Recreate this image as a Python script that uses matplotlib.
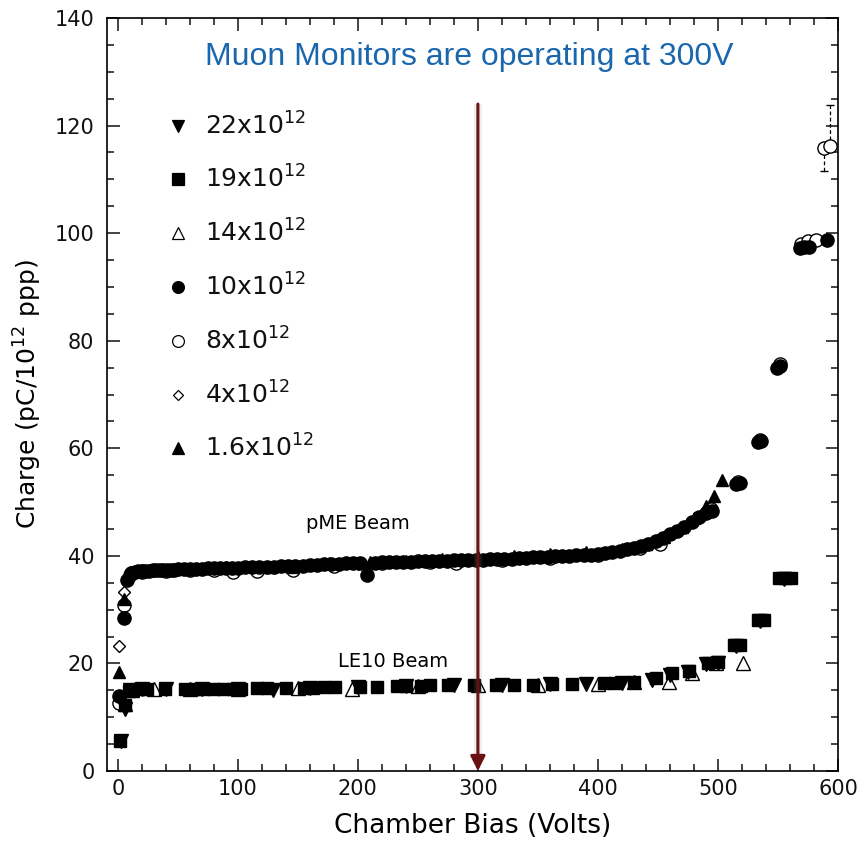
import matplotlib
matplotlib.use("Agg")
import matplotlib.pyplot as plt

# ---------------- data ----------------
# pME beam
x_10 = [1, 5, 8, 11, 14, 17, 20, 23, 26, 29,
        32, 35, 38, 41, 44, 47, 50, 55, 60, 65,
        70, 75, 80, 85, 90, 95, 100, 106, 112, 118,
        124, 130, 136, 142, 148, 154, 160, 166, 172, 178,
        184, 190, 196, 202, 208, 214, 220, 226, 232, 238,
        244, 250, 256, 262, 268, 274, 280, 286, 292, 298,
        304, 310, 316, 322, 328, 334, 340, 346, 352, 358,
        364, 370, 376, 382, 388, 394, 400, 406, 412, 418,
        424, 430, 436, 442, 448, 454, 460, 466, 472, 478,
        484, 490, 495, 515, 518, 533, 536, 549, 552, 568,
        572, 576, 591]
y_10 = [13.9, 28.5, 35.5, 36.8, 37.0, 37.1, 37.2, 37.2, 37.2, 37.3,
        37.3, 37.3, 37.4, 37.4, 37.4, 37.4, 37.5, 37.5, 37.6, 37.5,
        37.6, 37.7, 37.7, 37.7, 37.8, 37.7, 37.8, 37.9, 37.9, 38.0,
        38.0, 38.0, 38.1, 38.1, 38.2, 38.2, 38.3, 38.3, 38.4, 38.5,
        38.5, 38.6, 38.6, 38.7, 36.5, 38.7, 38.8, 38.8, 38.9, 38.9,
        38.9, 39.0, 39.0, 39.1, 39.1, 39.1, 39.2, 39.2, 39.3, 39.3,
        39.3, 39.4, 39.4, 39.5, 39.5, 39.6, 39.6, 39.7, 39.8, 39.8,
        39.9, 39.9, 40.0, 40.1, 40.1, 40.2, 40.3, 40.5, 40.7, 40.9,
        41.2, 41.5, 41.9, 42.3, 42.8, 43.4, 44.0, 44.7, 45.4, 46.3,
        47.2, 48.0, 48.3, 53.4, 53.6, 61.2, 61.4, 75.0, 75.3, 97.3,
        97.4, 97.5, 98.8]

x_8 = [1, 5, 10, 20, 40, 60, 80, 96, 116, 146, 180, 220, 260, 282, 320, 360, 400, 435, 452,
       494, 517, 535, 552, 569, 575, 582, 588, 593]
y_8 = [12.6, 30.8, 36.5, 37.0, 37.2, 37.3, 37.4, 37.0, 37.2, 37.3, 38.2, 38.6, 38.9, 38.6, 39.3,
       39.6, 40.2, 41.4, 42.3, 48.8, 53.8, 61.5, 75.6, 98.0, 98.6, 98.8, 115.8, 116.3]

x_4 = [1, 5, 12, 40, 100, 200, 300, 400]
y_4 = [23.2, 33.2, 37.0, 37.3, 37.7, 38.5, 39.3, 40.3]

x_16 = [1, 5, 10, 20, 30, 60, 90, 127, 145, 176, 210, 240, 270, 300, 330, 360, 390, 420, 440,
        455, 470, 480, 490, 497, 503]
y_16 = [18.5, 32.0, 37.0, 37.3, 37.4, 37.6, 37.9, 37.9, 38.0, 38.6, 38.8, 39.1, 39.4, 39.7, 40.0,
        40.3, 40.7, 41.3, 42.3, 43.5, 45.3, 47.0, 49.3, 51.2, 54.2]

# LE10 beam
x_19 = [2, 6, 9, 13, 18, 24, 39, 56, 64, 72, 80, 88, 96, 103, 116, 124, 140, 155, 163, 172, 181,
        202, 216, 233, 240, 253, 260, 275, 297, 315, 330, 346, 362, 378, 405, 414, 430, 448, 462,
        476, 492, 500, 513, 518, 533, 538, 551, 556, 561]
y_19 = [5.5, 12.3, 14.8, 15.1, 15.2, 15.2, 15.2, 15.2, 15.2, 15.2, 15.3, 15.3, 15.3, 15.3, 15.4,
        15.4, 15.5, 15.5, 15.5, 15.6, 15.6, 15.7, 15.7, 15.8, 15.8, 15.8, 15.9, 15.9, 15.9, 16.0,
        16.0, 16.0, 16.1, 16.1, 16.3, 16.4, 16.6, 17.3, 18.3, 18.6, 20.0, 20.2, 23.4, 23.5, 28.0,
        28.1, 35.8, 35.9, 35.9]

x_22 = [3, 6, 10, 20, 40, 70, 100, 129, 160, 200, 240, 280, 320, 360, 390, 420, 445, 460, 475,
        490, 500, 515, 535, 555]
y_22 = [5.6, 11.5, 15.0, 15.2, 15.2, 15.3, 15.3, 15.0, 15.5, 15.7, 15.8, 15.9, 16.0, 16.1, 16.1,
        16.4, 17.0, 17.8, 18.4, 19.9, 20.1, 23.3, 27.9, 35.7]

x_14 = [6, 12, 30, 60, 100, 150, 195, 250, 300, 350, 400, 430, 459, 478, 498, 521]
y_14 = [12.4, 15.0, 15.2, 15.2, 15.3, 15.4, 15.3, 15.8, 15.9, 16.0, 16.2, 16.6, 16.6, 18.3, 20.0, 20.1]

legend_labels = ["22x10$^{12}$", "19x10$^{12}$", "14x10$^{12}$", "10x10$^{12}$",
                 "8x10$^{12}$", "4x10$^{12}$", "1.6x10$^{12}$"]
legend_y = [120, 110, 100, 90, 80, 70, 60]

title_text = "Muon Monitors are operating at 300V"
operating_voltage = 300
arrow_top = 124

# ---------------- figure ----------------
plt.rcParams['font.family'] = ['DejaVu Sans']
plt.rcParams['mathtext.fontset'] = 'dejavusans'
fig = plt.figure(figsize=(8.58, 8.43), dpi=100)
ax = fig.add_axes([0.1247, 0.0854, 0.852, 0.8932])

ms = 9.5
styles = {
    "22": dict(marker='v', mfc='black', mec='black'),
    "19": dict(marker='s', mfc='black', mec='black'),
    "14": dict(marker='^', mfc='white', mec='black'),
    "10": dict(marker='o', mfc='black', mec='black'),
    "8": dict(marker='o', mfc='white', mec='black'),
    "4": dict(marker='D', mfc='white', mec='black'),
    "1.6": dict(marker='^', mfc='black', mec='black'),
}
sizes = {"22": ms, "19": 9, "14": ms, "10": ms, "8": ms, "4": 6, "1.6": 9}

# error bars (dashed) near top right
eb = ax.errorbar([588, 593], [115.8, 116.3], yerr=[[4.3, 0], [0, 7.5]], fmt='none',
                 ecolor='black', elinewidth=0.9, capsize=3, zorder=1)
for c in eb[2]:
    c.set_linestyle((0, (3, 2)))

order = [("8", x_8, y_8), ("4", x_4, y_4), ("14", x_14, y_14), ("10", x_10, y_10),
         ("1.6", x_16, y_16), ("19", x_19, y_19), ("22", x_22, y_22)]
for z, (key, xs, ys) in enumerate(order):
    st = styles[key]
    ax.plot(xs, ys, linestyle='none', marker=st['marker'], markersize=sizes[key],
            markerfacecolor=st['mfc'], markeredgecolor=st['mec'], markeredgewidth=1.0,
            zorder=2 + z, clip_on=False)

# manual legend
legend_keys = ["22", "19", "14", "10", "8", "4", "1.6"]
leg_sizes = {"22": 8, "19": 8, "14": 8, "10": 8.5, "8": 8.5, "4": 5.5, "1.6": 8}
for key, lab, yy in zip(legend_keys, legend_labels, legend_y):
    st = styles[key]
    ax.plot([50.5], [yy], linestyle='none', marker=st['marker'], markersize=leg_sizes[key],
            markerfacecolor=st['mfc'], markeredgecolor=st['mec'], markeredgewidth=0.9)
    ax.text(73, yy, lab, fontsize=18, va='center', ha='left', color='#111111')

# title text
ax.text(293, 132.8, title_text, fontsize=23, color='#1a67ad', ha='center', va='center',
        family='Liberation Sans')

# beam labels
ax.text(200, 46.0, "pME Beam", fontsize=14, ha='center', va='center')
ax.text(229, 20.3, "LE10 Beam", fontsize=14, ha='center', va='center')

# operating voltage arrow
ax.plot([operating_voltage, operating_voltage], [2, arrow_top], color='#999999', lw=6,
        alpha=0.15, zorder=20, solid_capstyle='butt')
ax.annotate('', xy=(operating_voltage, 0), xytext=(operating_voltage, arrow_top),
            arrowprops=dict(arrowstyle='-|>', color='#6a1212', lw=2.2, mutation_scale=22,
                            shrinkA=0, shrinkB=0), zorder=21)

# axes
ax.set_xlim(-9, 600)
ax.set_ylim(0, 140)
ax.set_xticks(range(0, 601, 100))
ax.set_xticks(range(0, 601, 20), minor=True)
ax.set_yticks(range(0, 141, 20))
ax.set_yticks(range(0, 141, 5), minor=True)
ax.tick_params(which='both', direction='in', top=True, right=True, width=1.1, labelsize=15,
               colors='#111111')
ax.tick_params(which='major', length=9)
ax.tick_params(which='minor', length=5)
ax.tick_params(axis='y', pad=9)
ax.tick_params(axis='x', pad=6)
for s in ax.spines.values():
    s.set_linewidth(1.2)

ax.set_xlabel("Chamber Bias (Volts)", fontsize=19, labelpad=10)
ax.set_ylabel("Charge (pC/10$^{12}$ ppp)", fontsize=18, labelpad=8)

fig.savefig("out.png", dpi=100)
